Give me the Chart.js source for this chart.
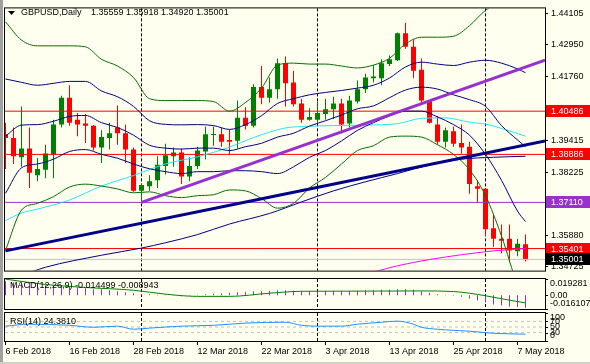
<!DOCTYPE html>
<html>
<head>
<meta charset="utf-8">
<title>GBPUSD Daily</title>
<script src="https://cdn.jsdelivr.net/npm/chart.js@4.4.1/dist/chart.umd.min.js"></script>
<style>
  html, body { margin: 0; padding: 0; background: #fffff0; }
  #wrap { position: relative; width: 590px; height: 364px; overflow: hidden; background: #fffff0; }
  #wrap canvas { position: absolute; left: 0; }
  #edgeLeft { position: absolute; left: 0; top: 0; width: 3px; height: 364px; background: #a0a0a0; }
  #edgeBottom { position: absolute; left: 0; top: 362px; width: 590px; height: 2px; background: #d4d0c8; }
</style>
</head>
<body>
<div id="wrap">
  <canvas id="mainChart" width="590" height="279" style="top:0"></canvas>
  <canvas id="macdChart" width="590" height="33" style="top:278px"></canvas>
  <canvas id="rsiChart" width="590" height="53" style="top:311px"></canvas>
  <div id="edgeLeft"></div>
  <div id="edgeBottom"></div>
</div>
<script>
Chart.defaults.font.family = "'Liberation Sans', Arial, sans-serif";
Chart.defaults.font.size = 9;
Chart.defaults.color = "#000";

// bar 0 = 6 Feb 2018 ... bar 65 = 8 May 2018
const opens = [1.3963,1.3949,1.3878,1.3910,1.3811,1.3832,1.3889,1.3999,1.4098,1.4017,
  1.4003,1.3995,1.3914,1.3949,1.3988,1.3967,1.3907,1.3754,1.3771,1.3793,
  1.3846,1.3882,1.3896,1.3807,1.3846,1.3899,1.3960,1.3963,1.3942,1.3939,
  1.4024,1.3995,1.4138,1.4098,1.4130,1.4226,1.4155,1.4077,1.4017,1.4017,
  1.4038,1.4056,1.4077,1.4003,1.4084,1.4130,1.4170,1.4170,1.4223,1.4237,
  1.4337,1.4287,1.4202,1.4088,1.3999,1.3935,1.3974,1.3931,1.3917,1.3771,
  1.3761,1.3615,1.3576,1.3576,1.3530,1.35559];
const highs = [1.4006,1.3988,1.4066,1.3988,1.3875,1.3924,1.4017,1.4106,1.4145,1.4042,
  1.4038,1.3997,1.3978,1.4006,1.4070,1.3999,1.3914,1.3782,1.3811,1.3882,
  1.3928,1.3914,1.3910,1.3878,1.3917,1.3992,1.3992,1.3988,1.3981,1.4088,
  1.4063,1.4148,1.4216,1.4173,1.4244,1.4251,1.4198,1.4095,1.4059,1.4084,
  1.4095,1.4102,1.4095,1.4106,1.4162,1.4187,1.4219,1.4241,1.4255,1.4340,
  1.4376,1.4315,1.4244,1.4090,1.4031,1.3988,1.3992,1.3999,1.3935,1.3793,
  1.3764,1.3668,1.3629,1.3629,1.3576,1.35918];
const lows = [1.3835,1.3853,1.3843,1.3764,1.3789,1.3800,1.3800,1.3988,1.3995,1.3956,
  1.3931,1.3903,1.3857,1.3907,1.3924,1.3857,1.3750,1.3711,1.3754,1.3764,
  1.3814,1.3843,1.3779,1.3789,1.3835,1.3871,1.3921,1.3917,1.3885,1.3910,
  1.3981,1.3988,1.4074,1.4081,1.4095,1.4066,1.4066,1.4006,1.4013,1.4006,
  1.4017,1.4020,1.3967,1.3988,1.4077,1.4116,1.4155,1.4145,1.4216,1.4234,
  1.4280,1.4170,1.4074,1.4003,1.3924,1.3914,1.3917,1.3892,1.3743,1.3711,
  1.3587,1.3547,1.3523,1.3490,1.3512,1.34920];
const closes = [1.3949,1.3882,1.3910,1.3821,1.3835,1.3892,1.3999,1.4098,1.4006,1.3999,
  1.3995,1.3914,1.3953,1.3967,1.3967,1.3907,1.3754,1.3775,1.3789,1.3850,
  1.3885,1.3896,1.3807,1.3846,1.3903,1.3963,1.3963,1.3935,1.3935,1.4024,
  1.3995,1.4138,1.4098,1.4130,1.4226,1.4152,1.4074,1.4017,1.4027,1.4042,
  1.4056,1.4077,1.3999,1.4088,1.4130,1.4173,1.4177,1.4226,1.4241,1.4337,
  1.4287,1.4198,1.4088,1.4006,1.3935,1.3978,1.3928,1.3914,1.3779,1.3761,
  1.3612,1.3576,1.3569,1.3533,1.3558,1.35001];

const dateTickIdx = [0, 8, 16, 24, 32, 40, 48, 56, 64];
const dateTickLabels = ["6 Feb 2018", "16 Feb 2018", "28 Feb 2018", "12 Mar 2018", "22 Mar 2018",
  "3 Apr 2018", "13 Apr 2018", "25 Apr 2018", "7 May 2018"];
const monthStarts = [17, 39, 60];

const priceTicks = [1.44105, 1.42950, 1.41760, 1.39415, 1.38225, 1.35880, 1.34725];
const levelPrices = [1.40486, 1.38886, 1.37110, 1.35401, 1.35001];
const levelColors = ["#ff0000", "#ff0000", "#9932cc", "#ff0000", "#c0c0c0"];
const levelLabelBg = ["#ff0000", "#ff0000", "#9932cc", "#ff0000", "#000000"];

// bollinger bands, read every second bar
const bandIdx = [0,2,4,6,8,10,12,14,16,18,20,22,24,26,28,30,32,34,36,38,40,42,44,46,48,50,52,54,56,58,60,62,64,65];
const bbUpperOuter = [1.43793,1.43117,1.42904,1.42904,1.42904,1.42868,1.42406,1.42157,1.41731,1.40949,
  1.40878,1.40878,1.40878,1.40842,1.40487,1.40807,1.41340,1.42193,1.42264,1.42229,
  1.42229,1.42157,1.42086,1.42193,1.42442,1.42975,1.43224,1.43224,1.43259,1.43650,
  1.44219,1.44539,1.44610,1.44646];
const bbUpperInner = [1.41677,1.41553,1.41446,1.41517,1.41588,1.41588,1.41233,1.41020,1.40664,1.40131,
  1.39998,1.39980,1.39989,1.39953,1.39811,1.39989,1.40318,1.40771,1.40949,1.41091,
  1.41180,1.41251,1.41340,1.41446,1.41713,1.42122,1.42300,1.42229,1.42175,1.42300,
  1.42371,1.42264,1.42051,1.41909];
const bbMiddle = [1.39562,1.39971,1.39989,1.40113,1.40291,1.40327,1.40060,1.39882,1.39598,1.39225,
  1.39118,1.39082,1.39118,1.39118,1.39029,1.39171,1.39296,1.39527,1.39669,1.39935,
  1.40131,1.40344,1.40575,1.40682,1.40984,1.41269,1.41375,1.41304,1.41091,1.40913,
  1.40664,1.39953,1.39421,1.39171];
const bbLowerInner = [1.37447,1.38389,1.38531,1.38709,1.38994,1.39065,1.38887,1.38745,1.38531,1.38354,
  1.38247,1.38176,1.38247,1.38247,1.38282,1.38282,1.38247,1.38176,1.38425,1.38780,
  1.39029,1.39385,1.39776,1.40060,1.40309,1.40487,1.40487,1.40273,1.39989,1.39598,
  1.38887,1.37927,1.36789,1.36398];
const bbLowerOuter = [1.35332,1.36825,1.37074,1.37323,1.37678,1.37785,1.37714,1.37607,1.37465,1.37500,
  1.37358,1.37287,1.37358,1.37394,1.37571,1.37536,1.37251,1.36896,1.37074,1.37642,
  1.38034,1.38531,1.39029,1.39207,1.39527,1.39562,1.39527,1.39243,1.38887,1.38318,
  1.37358,1.35865,1.34087,1.33625];

const cyanIdx = [0,2,4,8,12,16,20,24,28,31,35,37,41,45,49,52,55,58,60,62,65];
const cyanMa = [1.36434,1.36718,1.36861,1.37198,1.37714,1.38105,1.38531,1.38798,1.39154,1.39509,
  1.39865,1.39918,1.39953,1.39971,1.40025,1.40220,1.40238,1.40078,1.40007,1.39847,1.39562];
const longMaIdx = [2,5,12,17,20,24,28,33,37,41,45,49,53,57,61,65];
const longMa = [1.34400,1.34709,1.35154,1.35420,1.35616,1.35918,1.36309,1.36700,1.37127,1.37536,
  1.37873,1.38176,1.38496,1.38709,1.38780,1.38816];
const magentaIdx = [46,49,53,57,61,65];
const magentaMa = [1.34532,1.34763,1.34994,1.35172,1.35314,1.35403];

const trendNavyIdx = [0, 67.44];
const trendNavy = [1.35314, 1.39385];
const trendPurpleIdx = [17, 67.44];
const trendPurple = [1.37110, 1.42371];

const macdHist = [0.0167,0.0155,0.0155,0.0143,0.0131,0.0119,0.0119,0.0107,0.0107,0.0095,
  0.0084,0.0072,0.0072,0.0060,0.0048,0.0036,0.0024,0.0012,0.0012,0.0006,
  0.0006,-0.0006,-0.0012,-0.0006,0.0006,0.0012,0.0018,0.0024,0.0030,0.0036,
  0.0042,0.0048,0.0048,0.0054,0.0060,0.0060,0.0054,0.0048,0.0048,0.0048,
  0.0048,0.0048,0.0048,0.0048,0.0054,0.0060,0.0060,0.0066,0.0066,0.0072,
  0.0072,0.0066,0.0048,0.0030,0.0012,0.0006,-0.0006,-0.0018,-0.0036,-0.0060,
  -0.0084,-0.0107,-0.0119,-0.0131,-0.0137,-0.014499];
const signalIdx = [0,5,10,16,20,24,28,33,37,45,52,56,58,60,62,65];
const macdSignal = [0.0191,0.0128,0.0093,0.0060,0.0014,-0.0012,-0.0012,0.0025,0.0048,0.0050,
  0.0052,0.0045,0.0025,-0.0005,-0.0040,-0.008943];
const macdAxis = [0.019281, 0, -0.016107];

const rsiIdx = [0,3,8,11,14,16,18,22,26,30,35,37,39,42,44,47,49,51,52,54,56,58,60,61,65];
const rsiValues = [53,60,56,49,53,42,46,53,56,64,67,56,53,53,60,67,71,60,49,42,38,35,30,27.5,24.381];
const rsiLevels = [70, 50, 30];
const rsiAxis = [100, 70, 50, 30, 0];

const X_MIN = -0.0625, X_MAX = 67.4375;
const last = closes.length - 1;
const FONT = "9px 'Liberation Sans', Arial, sans-serif";

function pts(xs, ys) {
  return xs.map((x, k) => ({ x: x, y: ys[k] }));
}
function line(xs, ys, color, width, extra) {
  return Object.assign({
    type: "line", data: pts(xs, ys), borderColor: color, borderWidth: width,
    pointRadius: 0, cubicInterpolationMode: "monotone", clip: 0, order: 2
  }, extra || {});
}
function xScale(show) {
  return { type: "linear", min: X_MIN, max: X_MAX, offset: false, display: show, grid: { offset: false } };
}

const paneFrame = {
  id: "paneFrame",
  beforeDatasetsDraw(chart) {
    const { ctx, chartArea: a, scales } = chart;
    ctx.save();
    ctx.strokeStyle = "#000";
    ctx.lineWidth = 1;
    ctx.setLineDash([3, 2]);
    monthStarts.forEach(m => {
      const px = Math.floor(scales.x.getPixelForValue(m)) + 0.5;
      ctx.beginPath();
      ctx.moveTo(px, a.top);
      ctx.lineTo(px, a.bottom);
      ctx.stroke();
    });
    ctx.restore();
  },
  afterDraw(chart) {
    const { ctx, chartArea: a } = chart;
    ctx.save();
    ctx.strokeStyle = "#000";
    ctx.lineWidth = 1;
    ctx.strokeRect(a.left - 0.5, a.top - 0.5, a.right - a.left + 1, a.bottom - a.top + 1);
    ctx.restore();
  }
};

const candleColors = opens.map((o, i) => closes[i] >= o ? "#008000" : "#ff0000");

const mainExtras = {
  id: "mainExtras",
  afterDraw(chart) {
    const { ctx, scales: { y }, chartArea: a } = chart;
    ctx.save();
    ctx.font = FONT;
    ctx.textBaseline = "middle";
    levelPrices.forEach((p, k) => {
      const py = Math.round(y.getPixelForValue(p));
      ctx.fillStyle = levelLabelBg[k];
      ctx.fillRect(a.right + 1, py - 6, 44, 12);
      ctx.fillStyle = "#fff";
      ctx.fillText(p.toFixed(5), a.right + 6, py + 0.5);
    });
    ctx.fillStyle = "#000";
    ctx.beginPath();
    ctx.moveTo(8, 11); ctx.lineTo(15, 11); ctx.lineTo(11.5, 15);
    ctx.closePath();
    ctx.fill();
    ctx.fillText("GBPUSD,Daily", 21, 13);
    ctx.fillText([opens[last], highs[last], lows[last], closes[last]].map(v => v.toFixed(5)).join(" "), 91, 13);
    ctx.restore();
  }
};

new Chart(document.getElementById("mainChart"), {
  type: "bar",
  data: {
    datasets: [
      { type: "bar", data: opens.map((o, i) => ({ x: i, y: [lows[i], highs[i]] })),
        backgroundColor: candleColors, barThickness: 1, grouped: false, inflateAmount: 0, clip: 0, order: 20 },
      { type: "bar", data: opens.map((o, i) => ({ x: i, y: [o, closes[i]] })),
        backgroundColor: candleColors, barThickness: 5, minBarLength: 1, grouped: false, inflateAmount: 0, clip: 0, order: 19 },
      line(bandIdx, bbUpperOuter, "#006f00", 1),
      line(bandIdx, bbLowerOuter, "#006f00", 1),
      line(bandIdx, bbUpperInner, "#000080", 1),
      line(bandIdx, bbMiddle, "#000080", 1),
      line(bandIdx, bbLowerInner, "#000080", 1),
      line(cyanIdx, cyanMa, "#22e4f4", 1),
      line(longMaIdx, longMa, "#000080", 1),
      line(magentaIdx, magentaMa, "#ff00ff", 1),
      ...levelPrices.map((p, k) => line([X_MIN, X_MAX], [p, p], levelColors[k], 1, { order: 3 })),
      line(trendNavyIdx, trendNavy, "#00008b", 3, { order: 1 }),
      line(trendPurpleIdx, trendPurple, "#9a2fd0", 3, { order: 1 })
    ]
  },
  options: {
    responsive: false, animation: false, devicePixelRatio: 1, events: [],
    layout: { padding: { left: 5, top: 3, bottom: 3, right: 0 } },
    plugins: { legend: { display: false }, tooltip: { enabled: false } },
    scales: {
      x: xScale(false),
      y: {
        type: "linear", position: "right", min: 1.34585, max: 1.44290, bounds: "data",
        afterBuildTicks: s => { s.ticks = priceTicks.map(v => ({ value: v })); },
        afterFit: s => { s.width = 45; },
        ticks: { padding: 3, autoSkip: false, color: "#000", callback: v => Number(v).toFixed(5) },
        grid: { drawOnChartArea: false, drawTicks: true, tickLength: 3, color: "#000" },
        border: { display: true, color: "#000" }
      }
    }
  },
  plugins: [paneFrame, mainExtras]
});

function subAxisText(values, fmt, labelText, labelDy) {
  return {
    id: "subAxisText",
    afterDraw(chart) {
      const { ctx, scales: { y }, chartArea: a } = chart;
      ctx.save();
      ctx.font = FONT;
      ctx.fillStyle = "#000";
      ctx.textBaseline = "middle";
      ctx.fillText(labelText, a.left + 5, a.top + labelDy);
      values.forEach(v => {
        const py = y.getPixelForValue(v);
        ctx.fillRect(a.right, Math.round(py), 3, 1);
        const ty = Math.min(Math.max(py, a.top + 5), a.bottom - 5);
        ctx.fillText(fmt(v), a.right + 5, ty);
      });
      ctx.restore();
    }
  };
}

new Chart(document.getElementById("macdChart"), {
  type: "bar",
  data: {
    datasets: [
      { type: "bar", data: macdHist.map((v, i) => ({ x: i, y: v })), backgroundColor: "#9932cc",
        barThickness: 1, inflateAmount: 0, clip: 0, order: 5 },
      line(signalIdx, macdSignal, "#008000", 1)
    ]
  },
  options: {
    responsive: false, animation: false, devicePixelRatio: 1, events: [],
    layout: { padding: { left: 5, top: 1, bottom: 2, right: 0 } },
    plugins: { legend: { display: false }, tooltip: { enabled: false } },
    scales: {
      x: xScale(false),
      y: {
        type: "linear", position: "right", min: macdAxis[2], max: macdAxis[0], bounds: "data",
        afterFit: s => { s.width = 45; },
        ticks: { display: false }, grid: { display: false },
        border: { display: true, color: "#000" }
      }
    }
  },
  plugins: [paneFrame, subAxisText(macdAxis, v => v === 0 ? "0.00" : v.toFixed(6),
    "MACD(12,26,9) " + macdHist[last].toFixed(6) + " " + macdSignal[macdSignal.length - 1].toFixed(6), 7)]
});

const rsiX = xScale(true);
Object.assign(rsiX, {
  position: "bottom",
  afterBuildTicks: s => { s.ticks = dateTickIdx.map(v => ({ value: v })); },
  afterFit: s => { s.height = 21; },
  ticks: { align: "start", padding: 1, autoSkip: false, maxRotation: 0, color: "#000",
    callback: v => dateTickLabels[dateTickIdx.indexOf(v)] },
  grid: { offset: false, drawOnChartArea: false, drawTicks: true, tickLength: 4, color: "#000" },
  border: { display: true, color: "#000" }
});

new Chart(document.getElementById("rsiChart"), {
  type: "line",
  data: {
    datasets: [
      ...rsiLevels.map(l => line([X_MIN, X_MAX], [l, l], "#c0c0c0", 1, { borderDash: [3, 3], order: 4 })),
      line(rsiIdx, rsiValues, "#1e90ff", 1)
    ]
  },
  options: {
    responsive: false, animation: false, devicePixelRatio: 1, events: [],
    layout: { padding: { left: 5, top: 2, bottom: 2, right: 0 } },
    plugins: { legend: { display: false }, tooltip: { enabled: false } },
    scales: {
      x: rsiX,
      y: {
        type: "linear", position: "right", min: 0, max: 100, bounds: "data",
        afterFit: s => { s.width = 45; },
        ticks: { display: false }, grid: { display: false },
        border: { display: true, color: "#000" }
      }
    }
  },
  plugins: [paneFrame, subAxisText(rsiAxis, v => String(v),
    "RSI(14) " + rsiValues[rsiValues.length - 1].toFixed(4), 9)]
});
</script>
</body>
</html>
